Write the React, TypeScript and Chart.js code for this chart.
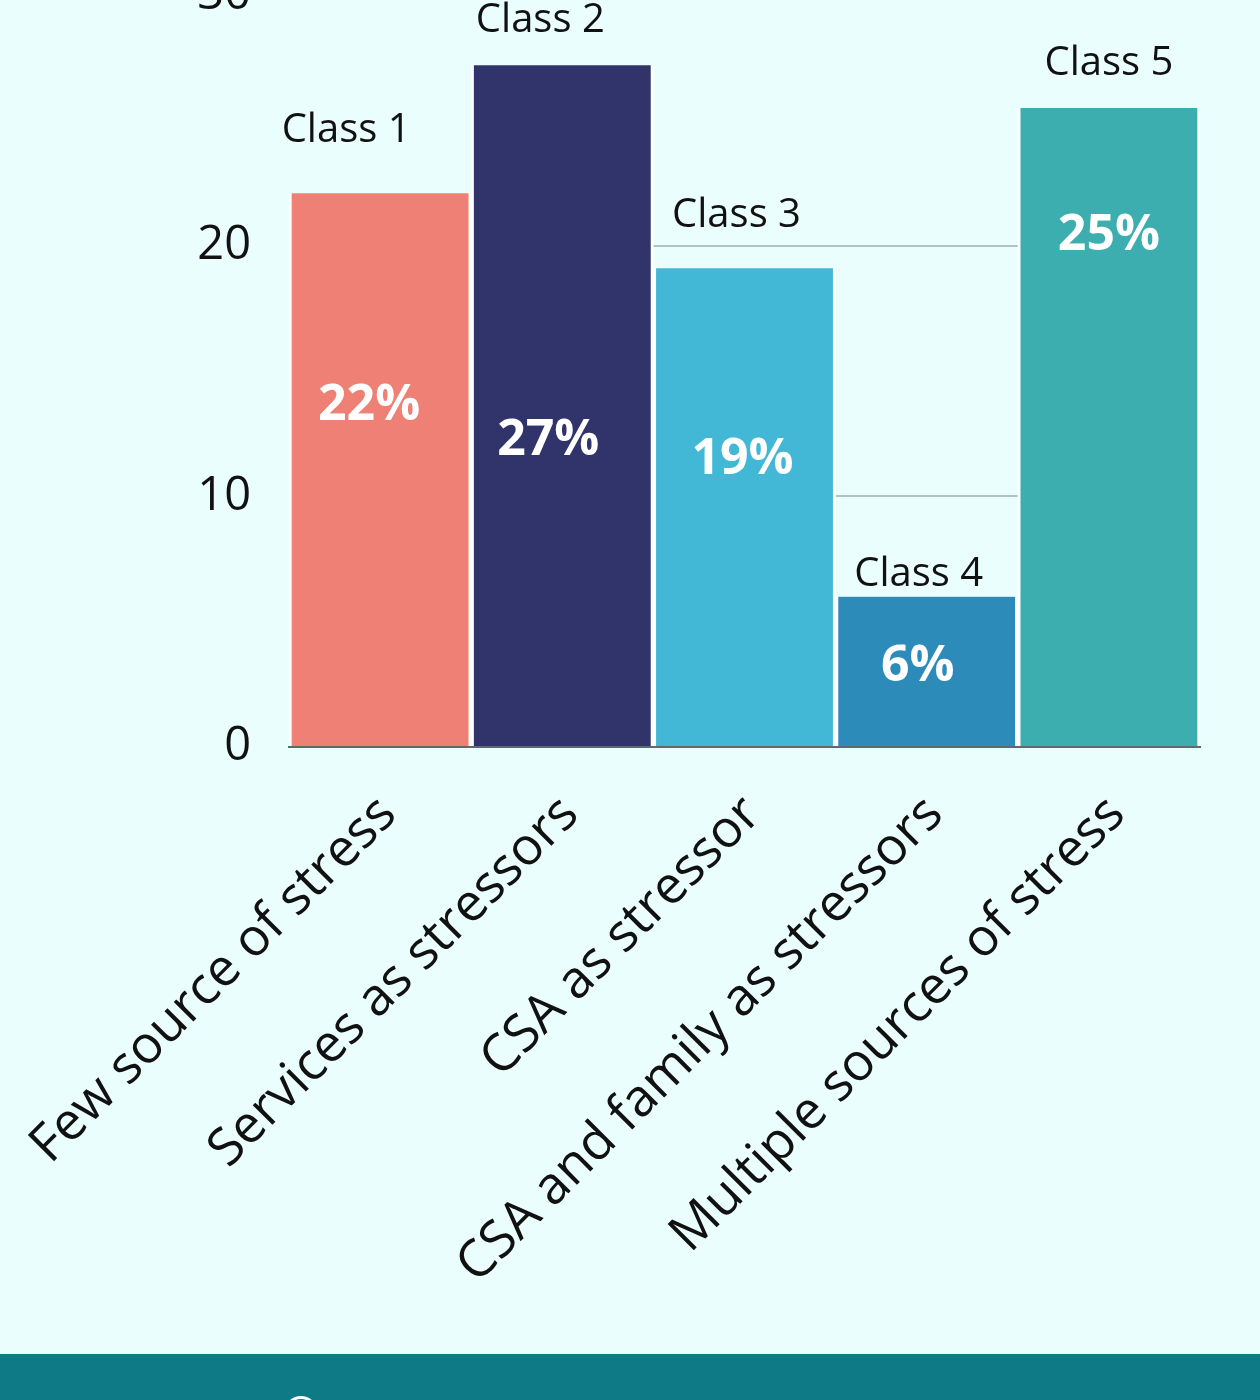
import React, { useEffect, useRef } from "react";
import { Chart, registerables } from "chart.js";

Chart.register(...registerables);

const categories = [
  "Few source of stress",
  "Services as stressors",
  "CSA as stressor",
  "CSA and family as stressors",
  "Multiple sources of stress",
];
const values = [22.1, 27.2, 19.1, 6.0, 25.5];
const classLabels = ["Class 1", "Class 2", "Class 3", "Class 4", "Class 5"];
const percentLabels = ["22%", "27%", "19%", "6%", "25%"];
const barColors = ["#ef8075", "#30346b", "#42b7d6", "#2c8bb9", "#3caeb0"];
const yMin = 0;
const yMax = 30;
const yStep = 10;

// annotation placement relative to each bar (px)
const classLabelDx = [-34, -22, -8, -8, 0];
const classLabelDy = [66, 48, 56, 25, 47];
const pctLabelDx = [-11, -14, -2, -9, 0];
const pctLabelDy = [209, 372, 188, 66, 124];

const FONT = "'Open Sans', 'Noto Sans', sans-serif";
const BG = "#eafffd";

const labelPlugin = {
  id: "barAnnotations",
  afterDatasetsDraw(chart: any) {
    const ctx = chart.ctx;
    const meta = chart.getDatasetMeta(0);
    ctx.save();
    ctx.textAlign = "center";
    ctx.textBaseline = "alphabetic";
    meta.data.forEach((bar: any, i: number) => {
      const cFont = 40;
      ctx.font = `500 ${cFont}px ${FONT}`;
      ctx.fillStyle = "#111111";
      ctx.fillText(
        classLabels[i],
        bar.x + classLabelDx[i],
        bar.y - classLabelDy[i] + cFont * 0.36
      );
      const pFont = 50;
      ctx.font = `700 ${pFont}px ${FONT}`;
      ctx.fillStyle = "#ffffff";
      ctx.fillText(
        percentLabels[i],
        bar.x + pctLabelDx[i],
        bar.y + pctLabelDy[i] + pFont * 0.36
      );
    });
    ctx.restore();
  },
};

export default function App() {
  const canvasRef = useRef<HTMLCanvasElement | null>(null);

  useEffect(() => {
    if (!canvasRef.current) return;
    const chart = new Chart(canvasRef.current, {
      type: "bar",
      data: {
        labels: categories,
        datasets: [
          {
            data: values,
            backgroundColor: barColors,
            borderColor: "#ffffff",
            borderWidth: { left: 3, right: 3, top: 0, bottom: 0 },
            borderSkipped: false,
            barPercentage: 1,
            categoryPercentage: 1,
          },
        ],
      },
      options: {
        responsive: false,
        animation: false,
        layout: { padding: { top: 60, right: 60, left: 0, bottom: 0 } },
        plugins: {
          legend: { display: false },
          tooltip: { enabled: false },
          title: { display: false },
        },
        scales: {
          x: {
            grid: { display: false },
            border: { display: true, color: "#5f6a6a", width: 2 },
            ticks: {
              autoSkip: false,
              maxRotation: 45,
              minRotation: 45,
              padding: 29,
              labelOffset: 8,
              color: "#111111",
              font: { family: FONT, size: 52, weight: "500" },
            },
            afterFit: (scale: any) => {
              scale.height = 602;
              scale.paddingLeft = 0;
              scale.paddingRight = 0;
            },
          },
          y: {
            min: yMin,
            max: yMax,
            border: { display: false },
            grid: { color: "#b3c3c3", lineWidth: 2, drawTicks: false },
            ticks: {
              stepSize: yStep,
              padding: 38,
              color: "#111111",
              font: { family: FONT, size: 47, weight: "500" },
            },
            afterFit: (scale: any) => {
              scale.width = 289;
            },
          },
        },
      },
      plugins: [labelPlugin],
    });
    return () => chart.destroy();
  }, []);

  return (
    <div
      style={{
        position: "relative",
        width: 1260,
        height: 1400,
        overflow: "hidden",
        background: BG,
      }}
    >
      <style>{`html,body{margin:0;padding:0;background:${BG};}`}</style>
      <canvas
        ref={canvasRef}
        width={1260}
        height={1420}
        style={{ position: "absolute", left: 0, top: -71, width: 1260, height: 1420 }}
      />
      <div
        style={{
          position: "absolute",
          left: 0,
          top: 1354,
          width: 1260,
          height: 46,
          background: "#0e7a86",
          overflow: "hidden",
        }}
      >
        <div
          style={{
            position: "absolute",
            left: 284,
            top: 42,
            width: 28,
            height: 28,
            borderRadius: "50%",
            border: "3px solid #ffffff",
          }}
        />
      </div>
    </div>
  );
}
